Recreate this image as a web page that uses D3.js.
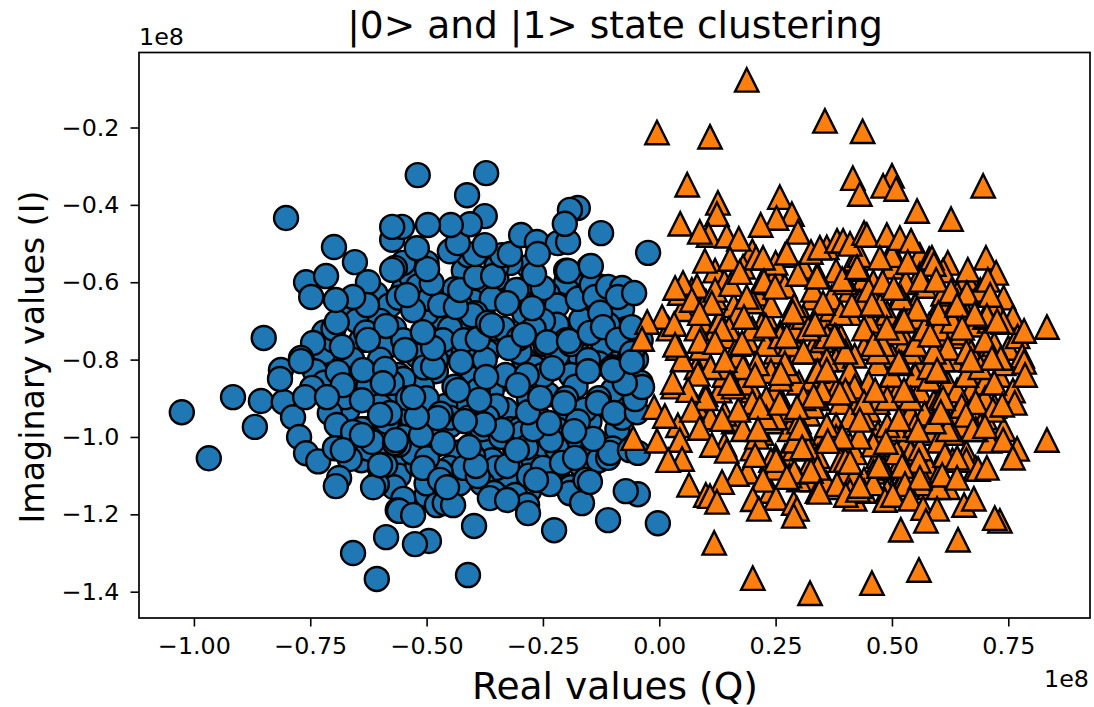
<!DOCTYPE html>
<html><head><meta charset="utf-8">
<script src="https://cdn.jsdelivr.net/npm/d3@7/dist/d3.min.js"></script>
<style>html,body{margin:0;padding:0;background:#fff}svg{display:block}text{font-family:"DejaVu Sans",sans-serif;fill:#000}</style>
</head><body><svg id="c" width="1094" height="707"></svg>
<script>
const titleText = "|0> and |1> state clustering";
const xLabel = "Real values (Q)";
const yLabel = "Imaginary values (I)";
const xTicks = [-1.0,-0.75,-0.5,-0.25,0,0.25,0.5,0.75];
const yTicks = [-0.2,-0.4,-0.6,-0.8,-1.0,-1.2,-1.4];
const xDomain = [-1.118,0.9256];
const yDomain = [-1.468,-0.0061];

const state0Back = [[-.5,-.58],[-.42,-.57],[-.35,-.59],[-.28,-.56],[-.2,-.6],[-.16,-.58],[-.61,-.63],[-.54,-.61],[-.47,-.64],[-.39,-.62],[-.33,-.65],[-.24,-.63],[-.12,-.64],[-.66,-.68],[-.58,-.66],[-.48,-.69],[-.41,-.67],[-.29,-.68],[-.22,-.66],[-.14,-.7],[-.08,-.67],[-.72,-.73],[-.64,-.75],[-.57,-.72],[-.5,-.74],[-.43,-.71],[-.36,-.75],[-.28,-.73],[-.22,-.71],[-.13,-.74],[-.07,-.72],[-.04,-.75],[-.72,-.78],[-.66,-.8],[-.59,-.77],[-.52,-.79],[-.45,-.76],[-.37,-.78],[-.29,-.8],[-.24,-.77],[-.17,-.79],[-.12,-.76],[-.08,-.8],[-.74,-.83],[-.67,-.85],[-.6,-.82],[-.56,-.84],[-.48,-.83],[-.41,-.81],[-.34,-.85],[-.27,-.82],[-.19,-.84],[-.13,-.81],[-.07,-.84],[-.04,-.86],[-.72,-.86],[-.65,-.86],[-.57,-.89],[-.51,-.87],[-.43,-.9],[-.36,-.88],[-.3,-.86],[-.24,-.89],[-.18,-.87],[-.11,-.9],[-.06,-.88],[-.67,-.93],[-.61,-.91],[-.54,-.94],[-.46,-.92],[-.41,-.95],[-.33,-.93],[-.27,-.91],[-.2,-.94],[-.14,-.92],[-.08,-.93],[-.63,-.98],[-.58,-.96],[-.52,-.99],[-.45,-.97],[-.39,-1.0],[-.32,-.98],[-.25,-.96],[-.2,-.99],[-.15,-1.0],[-.09,-.98],[-.6,-1.03],[-.55,-1.05],[-.48,-1.02],[-.43,-1.04],[-.37,-1.01],[-.31,-1.03],[-.24,-1.05],[-.18,-1.02],[-.14,-1.04],[-.6,-1.08],[-.56,-1.1],[-.52,-1.07],[-.44,-1.09],[-.36,-1.06],[-.31,-1.08],[-.27,-1.06],[-.22,-1.09],[-.17,-1.07],[-.57,-1.13],[-.5,-1.15],[-.43,-1.12],[-.33,-1.11],[-.28,-1.14],[-.23,-1.12],[-.18,-1.15]];
const state0Fill = [[-.55,-.62],[-.5,-.68],[-.45,-.72],[-.6,-.8],[-.55,-.85],[-.5,-.9],[-.45,-.95],[-.4,-.65],[-.35,-.72],[-.3,-.78],[-.25,-.84],[-.2,-.9],[-.15,-.96],[-.4,-.85],[-.35,-.92],[-.3,-.98],[-.25,-1.02],[-.6,-.95],[-.55,-1.0],[-.5,-1.05],[-.45,-1.08],[-.65,-.7],[-.6,-.7],[-.55,-.75],[-.3,-.62],[-.25,-.7],[-.2,-.75],[-.15,-.82],[-.1,-.88],[-.1,-.72],[-.15,-.68],[-.4,-1.05],[-.35,-1.08],[-.2,-1.05],[-.15,-1.08],[-.65,-.88],[-.7,-.75],[-.62,-1.02],[-.42,-.78],[-.48,-.8],[-.38,-.98],[-.28,-.9],[-.22,-.98],[-.08,-.95],[-.05,-.8],[-.574,-.49],[-.533,-.585],[-.518,-.61],[-.493,-.643],[-.44,-.618],[-.43,-.655],[-.36,-.643],[-.395,-.68],[-.335,-.72],[-.302,-.745],[-.27,-.72],[-.245,-.76],[-.22,-.79],[-.19,-.76],[-.155,-.72],[-.11,-.71],[-.065,-.8],[-.1,-.82],[-.13,-.9],[-.16,-.93],[-.175,-.96],[-.186,-1.0],[-.22,-1.03],[-.26,-.95],[-.295,-.99],[-.34,-1.0],[-.37,-.95],[-.39,-.88],[-.44,-.87],[-.47,-.94],[-.5,-.98],[-.53,-1.04],[-.56,-1.02],[-.6,-1.05],[-.64,-1.06],[-.625,-.87],[-.6,-.92],[-.575,-.86],[-.54,-.9],[-.505,-.82],[-.465,-.75],[-.42,-.75],[-.375,-.8],[-.33,-.84],[-.285,-.84],[-.64,-.98],[-.625,-1.03],[-.6,-1.08],[-.55,-1.16],[-.5,-1.12],[-.46,-1.15],[-.38,-1.12],[-.35,-1.15],[-.31,-1.15],[-.28,-1.1],[-.25,-1.08],[-.19,-1.13],[-.16,-1.12],[-.13,-1.06],[-.1,-1.03],[-.42,-1.08],[-.47,-1.09],[-.17,-.64],[-.13,-.61],[-.15,-.56],[-.2,-.57],[-.27,-.6],[-.32,-.55],[-.35,-.56],[-.41,-.53],[-.45,-.52],[-.5,-.55],[-.55,-.55],[-.56,-.64],[-.63,-.73],[-.7,-.72]];
const state0Top = [[-.402,-.685],[-.471,-.659],[-.426,-.806],[-.486,-.819],[-.23,-.822],[-.153,-.801],[-.102,-.822],[-.546,-.775],[-.486,-.77],[-.39,-.747],[-.323,-.77],[-.291,-.736],[-.241,-.755],[-.194,-.752],[-.168,-.698],[-.175,-.643],[-.145,-.607],[-.138,-.638],[-.11,-.612],[-.08,-.615],[-.089,-.638],[-.127,-.679],[-.149,-.731],[-.121,-.716],[-.089,-.749],[-.059,-.716],[-.059,-.783],[-.054,-.628],
[-.307,-.62],[-.25,-.615],[-.327,-.654],[-.273,-.667],[-.368,-.705],[-.36,-.711],[-.508,-.729],[-.437,-.664],[-.428,-.62],[-.529,-.672],[-.542,-.633],[-.489,-.602],[-.499,-.566],[-.568,-.563],[-.394,-.587],[-.357,-.584],[-.269,-.579],[-.196,-.571],[-.147,-.558],[-.338,-.53],[-.321,-.527],[-.396,-.527],[-.433,-.499],[-.521,-.512],[-.375,-.504],[-.297,-.478],[-.263,-.496],[-.218,-.499],[-.196,-.496],[-.261,-.527],[-.175,-.408],[-.192,-.413],[-.203,-.449],[-.125,-.473],[-.024,-.524],[-.375,-.429],[-.407,-.45],[-.448,-.452],[-.497,-.452],[-.553,-.457],[-.574,-.457],[-.413,-.375],[-.372,-.318],[-.519,-.323],
[-.802,-.434],[-.85,-.744],[-.699,-.509],[-.654,-.548],[-.759,-.6],[-.716,-.584],[-.626,-.6],[-.748,-.638],[-.574,-.568],[-.693,-.703],[-.628,-.659],[-.658,-.638],[-.695,-.646],[-.587,-.713],[-.744,-.757],[-.682,-.767],[-.626,-.749],[-.813,-.827],[-.77,-.796],[-.637,-.827],[-.589,-.824],
[-1.026,-.936],[-.968,-1.055],[-.916,-.897],[-.856,-.907],[-.869,-.974],[-.807,-.91],[-.815,-.85],[-.787,-.949],[-.774,-1.0],[-.759,-1.042],[-.733,-1.063],[-.665,-1.057],[-.688,-1.106],[-.695,-1.127],[-.746,-.873],[-.675,-.897],[-.708,-.938],[-.693,-.969],[-.617,-1.013],[-.585,-.961],[-.589,-1.073],[-.607,-1.122],[-.615,-1.13],[-.562,-1.189],[-.587,-1.259],[-.658,-1.3],[-.607,-1.367],[-.594,-.861],[-.77,-.804],[-.691,-.832],[-.68,-.866],[-.639,-.905],[-.761,-.897],[-.714,-.897],[-.658,-.987],[-.639,-.995],[-.697,-1.029],[-.68,-1.034],[-.568,-1.016],[-.579,-.938],[-.6,-.943],[-.6,-1.073],
[-.411,-1.357],[-.398,-1.23],[-.495,-1.269],[-.525,-1.277],[-.226,-1.241],[-.11,-1.215],[-.003,-1.223],[-.046,-1.148],[-.072,-1.14],[-.192,-1.145],[-.166,-1.171],[-.158,-1.111],[-.149,-1.116],[-.235,-1.122],[-.265,-1.111],[-.284,-1.176],[-.282,-1.197],[-.355,-1.145],[-.364,-1.158],[-.327,-1.163],[-.478,-1.176],[-.461,-1.171],[-.443,-1.176],[-.559,-1.191],[-.529,-1.202],[-.499,-1.055],[-.508,-1.08],[-.471,-1.111],[-.456,-1.13],[-.39,-1.101],[-.394,-1.075],[-.327,-1.075],[-.209,-1.067],[-.181,-1.054],[-.11,-1.054],[-.106,-1.041],[-.142,-1.005],[-.063,-1.034],[-.046,-1.041],[-.286,-1.027],[-.306,-1.034],[-.409,-1.026],[-.465,-1.016],[-.233,-1.008],[-.271,-.98],[-.183,-.985],[-.237,-.964],[-.338,-.982],[-.377,-.967],[-.418,-.959],[-.512,-.995],[-.476,-.951],[-.521,-.948],[-.566,-1.008],[-.282,-.936],[-.205,-.912],[-.132,-.912],[-.097,-.938],[-.048,-.936],[-.052,-.902],[-.037,-.871],[-.074,-.861],[-.153,-.83],[-.1,-.827],[-.059,-.806],[-.256,-.899],[-.304,-.866],[-.372,-.845],[-.387,-.904],[-.433,-.879],[-.529,-.897]];

const state1Extra = [[.16,-.66],[.23,-.69],[.29,-.72],[.35,-.69],[.41,-.68],[.47,-.72],[.53,-.75],[.59,-.69],[.63,-.74],[.68,-.71],[.12,-.72],[.19,-.75],[.25,-.78],[.33,-.77],[.38,-.8],[.44,-.77],[.5,-.79],[.56,-.81],[.63,-.8],[.7,-.79],[.75,-.77],[.1,-.8],[.16,-.83],[.24,-.83],[.3,-.86],[.37,-.85],[.43,-.89],[.49,-.86],[.56,-.88],[.62,-.86],[.67,-.88],[.73,-.84],[.13,-.88],[.2,-.88],[.26,-.9],[.32,-.94],[.39,-.91],[.45,-.93],[.52,-.95],[.59,-.91],[.64,-.94],[.7,-.95],[.16,-.96],[.22,-.99],[.28,-.98],[.35,-1.0],[.41,-1.02],[.47,-.99],[.53,-1.01],[.58,-.99],[.65,-.97],[.2,-1.03],[.27,-1.05],[.34,-1.05],[.4,-1.09],[.47,-1.05],[.55,-1.06],[.61,-1.05],[.33,-1.11],[.42,-1.16],[.58,-1.13]];
const state1Back = [[.2,-.52],[.27,-.53],[.36,-.51],[.42,-.54],[.5,-.52],[.56,-.53],[.62,-.55],[.12,-.57],[.18,-.56],[.25,-.58],[.31,-.56],[.38,-.57],[.44,-.59],[.5,-.56],[.56,-.58],[.61,-.57],[.66,-.59],[.07,-.62],[.14,-.6],[.21,-.63],[.27,-.61],[.33,-.64],[.41,-.62],[.46,-.6],[.52,-.63],[.57,-.61],[.64,-.63],[.69,-.62],[.74,-.64],[.05,-.67],[.1,-.65],[.17,-.68],[.24,-.66],[.31,-.69],[.37,-.67],[.43,-.65],[.49,-.68],[.56,-.69],[.61,-.66],[.66,-.68],[.72,-.66],[.76,-.69],[.02,-.72],[.09,-.7],[.15,-.74],[.22,-.71],[.26,-.73],[.33,-.71],[.39,-.74],[.45,-.7],[.51,-.73],[.58,-.71],[.65,-.73],[.71,-.7],[.77,-.74],[.04,-.77],[.11,-.75],[.17,-.79],[.23,-.76],[.3,-.78],[.35,-.75],[.42,-.79],[.48,-.76],[.54,-.78],[.61,-.75],[.67,-.78],[.72,-.76],[.78,-.79],[.08,-.82],[.14,-.84],[.21,-.81],[.28,-.83],[.36,-.8],[.41,-.83],[.47,-.81],[.55,-.84],[.61,-.8],[.68,-.83],[.74,-.81],[.03,-.87],[.1,-.89],[.18,-.86],[.25,-.88],[.33,-.85],[.38,-.88],[.45,-.86],[.51,-.89],[.58,-.85],[.64,-.88],[.7,-.86],[.76,-.88],[.08,-.92],[.14,-.94],[.2,-.91],[.27,-.93],[.34,-.9],[.42,-.93],[.47,-.91],[.54,-.94],[.6,-.91],[.67,-.93],[.72,-.92],[.04,-.97],[.11,-.95],[.18,-.98],[.24,-.96],[.31,-.99],[.38,-.97],[.44,-.95],[.51,-.98],[.57,-.96],[.63,-.99],[.69,-.97],[.74,-.98],[.14,-1.02],[.21,-1.0],[.29,-1.03],[.36,-1.01],[.42,-1.04],[.49,-1.02],[.54,-1.04],[.6,-1.01],[.66,-1.04],[.71,-1.01],[.19,-1.09],[.25,-1.05],[.32,-1.08],[.39,-1.06],[.46,-1.09],[.52,-1.06],[.58,-1.08],[.63,-1.06],[.68,-1.08],[.24,-1.14],[.3,-1.11],[.38,-1.13],[.44,-1.11],[.5,-1.14],[.56,-1.12],[.62,-1.13]];
const state1Fill = [[.13,-.7],[.2,-.72],[.28,-.76],[.36,-.74],[.44,-.72],[.52,-.7],[.6,-.72],[.18,-.82],[.26,-.85],[.34,-.83],[.42,-.87],[.5,-.84],[.58,-.82],[.66,-.84],[.1,-.9],[.17,-.93],[.25,-.95],[.33,-.92],[.41,-.95],[.49,-.97],[.57,-.94],[.65,-.92],[.24,-1.06],[.32,-1.03],[.4,-1.06],[.48,-1.08],[.56,-1.03],[.29,-.66],[.37,-.64],[.45,-.62],[.53,-.6],[.61,-.63],[.32,-.72],[.4,-.78],[.47,-.78],[.55,-.76],[.62,-.77],[.7,-.75],[.23,-.9],[.3,-.96],[.38,-1.0],[.46,-1.02],[.54,-.9],[.62,-.98],[.7,-.9],[.28,-1.1],[.36,-1.12],[.44,-1.14],[.52,-1.12],[.6,-1.1],[.09,-.77],[.14,-.82],[.22,-.6],[.34,-.58],[.43,-.53],[.5,-.53],[.58,-.54],[.12,-.64],[.6,-.83],[.68,-.98],[.2,-.65],[.17,-.76],[.26,-.74],[.31,-.78],[.39,-.68],[.475,-.66],[.55,-.66],[.63,-.7],[.69,-.82],[.72,-.86],[.68,-.91],[.61,-.9],[.55,-.97],[.51,-1.04],[.43,-1.0],[.36,-.97],[.29,-1.01],[.25,-1.08],[.34,-1.08],[.42,-1.1],[.49,-1.14],[.56,-1.09],[.6,-1.13],[.23,-.95],[.27,-.81],[.35,-.88],[.44,-.91],[.52,-.81],[.59,-.78],[.64,-.65],[.7,-.69],[.48,-.6],[.4,-.6],[.33,-.62],[.25,-.55],[.15,-.72],[.11,-.82],[.38,-.74],[.46,-.76],[.31,-.9],[.4,-.88],[.49,-.9],[.59,-.96],[.16,-.87],[.53,-1.1],[.34,-1.14],[.41,-1.14],[.46,-1.12],[.29,-1.09],[.66,-1.06],[.57,-.72],[.08,-.72],[.05,-.8],[.66,-.78],[.6,-.68],[.52,-.64]];
const state1Top = [[.188,-.077],[-.005,-.213],[.109,-.224],[.356,-.183],[.437,-.21],[.06,-.348],[.126,-.395],[.124,-.424],[.045,-.449],[.259,-.38],[.285,-.424],[.252,-.434],[.218,-.452],[.106,-.478],[.087,-.47],[.145,-.48],[.171,-.488],[.298,-.47],[.098,-.545],[.152,-.54],[.208,-.537],[.223,-.537],[.274,-.524],[.326,-.522],[.345,-.511],[.382,-.493],[.395,-.493],[.41,-.501],[.081,-.61],[.044,-.628],[.051,-.602],[.034,-.615],[.12,-.62],[.154,-.605],[.173,-.574],[.225,-.597],[.249,-.612],[.298,-.579],[.339,-.586],[.425,-.566],[.393,-.592],[.113,-.654],[.07,-.646],[.087,-.68],[.006,-.69],[.188,-.638],[.032,-.708],[-.026,-.703],[.182,-.69],[.287,-.677],[.352,-.654],[.414,-.659],[.335,-.708],[.229,-.713],[.135,-.721],[.274,-.739],[.377,-.739],[-.037,-.747],[.087,-.752],[.178,-.757],[.12,-.755],[.034,-.762],
[.416,-.331],[.5,-.325],[.481,-.351],[.431,-.372],[.509,-.359],[.554,-.416],[.627,-.437],[.696,-.351],[.44,-.473],[.446,-.478],[.489,-.478],[.517,-.486],[.541,-.493],[.474,-.537],[.534,-.548],[.425,-.561],[.586,-.537],[.59,-.553],[.702,-.537],[.663,-.568],[.724,-.576],[.706,-.594],[.562,-.594],[.595,-.594],[.504,-.615],[.627,-.623],[.661,-.628],[.711,-.633],[.64,-.659],[.457,-.656],[.704,-.687],[.739,-.703],[.726,-.7],[.678,-.682],[.554,-.669],[.526,-.698],[.784,-.726],[.833,-.716],[.651,-.718],[.582,-.736],[.489,-.718],
[.141,-.801],[.206,-.84],[.261,-.835],[.36,-.827],[.083,-.837],[.152,-.861],[.062,-.879],[.029,-.858],[.388,-.886],[.332,-.894],[-.011,-.923],[.012,-.946],[.135,-.954],[.07,-.93],[.216,-.923],[.259,-.912],[.296,-.923],[.212,-.98],[.302,-.977],[.393,-1.0],[.087,-.977],[-.056,-1.003],[-.005,-1.01],[.044,-1.008],[.113,-1.021],[.145,-1.036],[.049,-1.057],[.019,-1.06],[.206,-1.047],[.251,-1.06],[.307,-1.027],[.362,-1.011],[.41,-1.065],[.167,-1.096],[.135,-1.117],[.326,-1.088],[.223,-1.111],[.382,-1.122],[.064,-1.124],[.1,-1.15],[.109,-1.153],[.124,-1.168],[.201,-1.161],[.251,-1.158],[.289,-1.171],[.214,-1.186],[.344,-1.142],[.401,-1.15],[.296,-1.186],[.289,-1.204],[.118,-1.274],[.201,-1.365],[.324,-1.404],[.274,-1.104],[.427,-1.137],
[.784,-.806],[.786,-.84],[.734,-.796],[.715,-.796],[.67,-.801],[.597,-.827],[.526,-.879],[.464,-.879],[.515,-.806],[.605,-.936],[.659,-.943],[.764,-.912],[.717,-.93],[.737,-.917],[.674,-.98],[.7,-.972],[.556,-.982],[.515,-.954],[.431,-.956],[.739,-1.008],[.769,-1.031],[.833,-1.008],[.76,-1.054],[.685,-1.083],[.704,-1.08],[.614,-1.047],[.64,-1.054],[.608,-1.098],[.64,-1.106],[.558,-1.062],[.522,-1.075],[.472,-1.075],[.487,-1.013],[.528,-1.122],[.431,-1.127],[.485,-1.163],[.502,-1.15],[.56,-1.106],[.539,-1.16],[.567,-1.184],[.597,-1.186],[.655,-1.176],[.676,-1.16],[.732,-1.217],[.721,-1.21],[.573,-1.217],[.519,-1.24],[.642,-1.266],[.558,-1.344],[.457,-1.378]];

const plotLeft = 139, plotRight = 1090, plotTop = 52.5, plotBottom = 618;
const svg = d3.select("#c");
const x = d3.scaleLinear().domain(xDomain).range([plotLeft, plotRight]);
const y = d3.scaleLinear().domain(yDomain).range([plotBottom, plotTop]);

const triangleMark = { draw(ctx, size) {
  const r = Math.sqrt(size) / 2;
  ctx.moveTo(0, -r); ctx.lineTo(r, r); ctx.lineTo(-r, r); ctx.closePath();
}};
const triPath = d3.symbol().type(triangleMark).size(23.4 * 23.4)();

const gBlue = svg.append("g");
gBlue.selectAll("circle").data([...state0Back, ...state0Fill, ...state0Top]).join("circle")
  .attr("cx", d => x(d[0])).attr("cy", d => y(d[1])).attr("r", 12)
  .attr("fill", "#1f77b4").attr("stroke", "#000").attr("stroke-width", 2.4);
const gOrange = svg.append("g");
gOrange.selectAll("path").data([...state1Extra, ...state1Back, ...state1Fill, ...state1Top]).join("path")
  .attr("d", triPath).attr("transform", d => `translate(${x(d[0])},${y(d[1])})`)
  .attr("fill", "#ff7f0e").attr("stroke", "#000").attr("stroke-width", 2.4);

const minus = s => s.replace("-", "\u2212");
const gx = svg.append("g").attr("transform", `translate(0,${plotBottom})`)
  .call(d3.axisBottom(x).tickValues(xTicks).tickSize(8.5).tickPadding(10.5).tickFormat(d => minus(d3.format(".2f")(d))));
const gy = svg.append("g").attr("transform", `translate(${plotLeft},0)`)
  .call(d3.axisLeft(y).tickValues(yTicks).tickSize(8.5).tickPadding(11).tickFormat(d => minus(d3.format(".1f")(d))));
[gx, gy].forEach(g => {
  g.select(".domain").remove();
  g.selectAll(".tick line").attr("stroke", "#000").attr("stroke-width", 1.6);
  g.selectAll("text").style("font-size", "23.8px").style("font-family", '"DejaVu Sans"').attr("fill", "#000");
});
svg.append("rect").attr("x", plotLeft).attr("y", plotTop).attr("width", plotRight - plotLeft).attr("height", plotBottom - plotTop)
  .attr("fill", "none").attr("stroke", "#000").attr("stroke-width", 1.7);

svg.append("text").attr("x", 615).attr("y", 38).attr("text-anchor", "middle").style("font-size", "37.6px").text(titleText);
svg.append("text").attr("x", 615).attr("y", 699).attr("text-anchor", "middle").style("font-size", "37.6px").text(xLabel);
svg.append("text").attr("transform", "translate(44,357) rotate(-90)").attr("text-anchor", "middle").style("font-size", "33.3px").text(yLabel);
svg.append("text").attr("x", 139).attr("y", 45).style("font-size", "23.8px").text("1e8");
svg.append("text").attr("x", 1089).attr("y", 687).attr("text-anchor", "end").style("font-size", "23.8px").text("1e8");
</script></body></html>
